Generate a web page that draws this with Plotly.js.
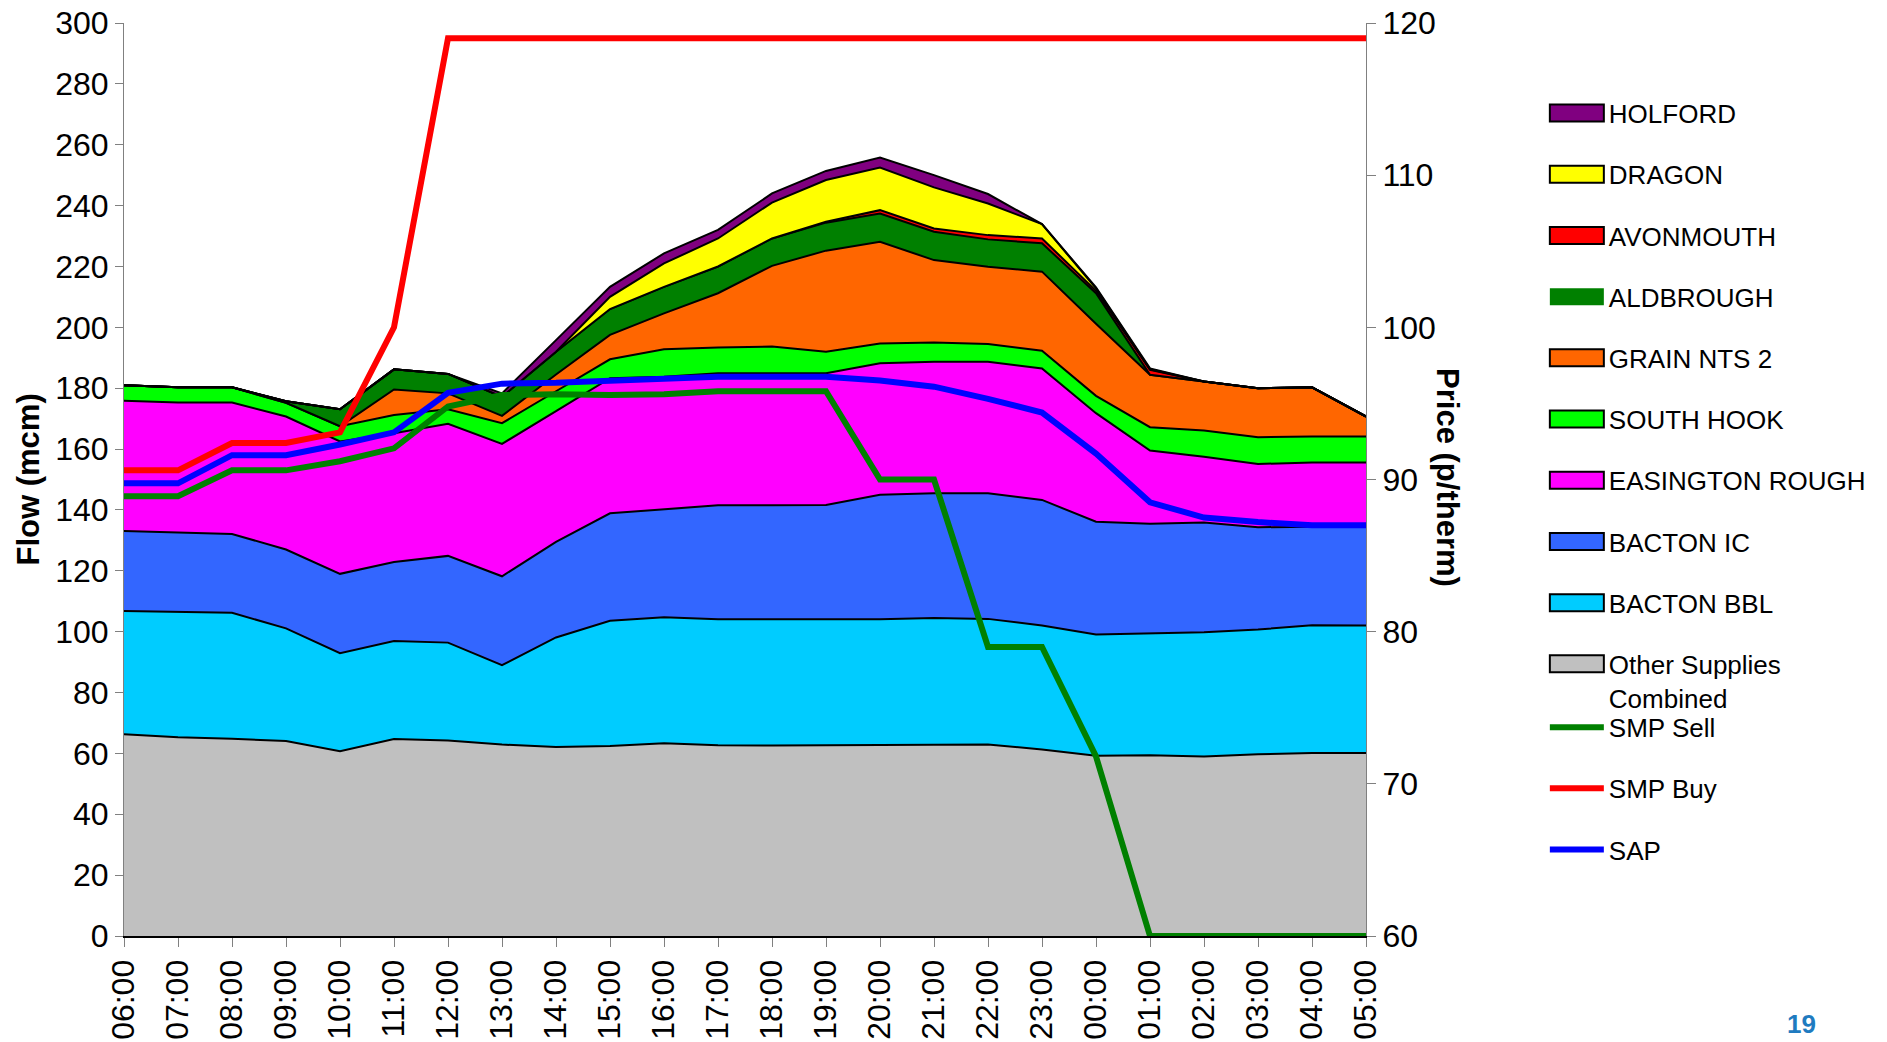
<!DOCTYPE html>
<html>
<head>
<meta charset="utf-8">
<script src="https://cdn.plot.ly/plotly-3.0.1.min.js"></script>
<style>
html,body{margin:0;padding:0;background:#fff;}
#chart{width:1887px;height:1042px;}
</style>
</head>
<body>
<div id="chart"></div>
<script>
const times = ['06:00','07:00','08:00','09:00','10:00','11:00','12:00','13:00','14:00','15:00','16:00','17:00',
               '18:00','19:00','20:00','21:00','22:00','23:00','00:00','01:00','02:00','03:00','04:00','05:00'];

// Flow components (mcm), stacked bottom -> top
const otherSupplies = [66.3,65.3,64.8,64.1,60.7,64.7,64.2,62.9,62.1,62.4,63.3,62.7,62.6,62.7,62.7,62.9,62.9,61.3,59.2,59.4,59.0,59.7,60.1,60.1];
const bactonBBL     = [40.5,41.3,41.4,37.0,32.2,32.2,32.2,26.1,36.0,41.2,41.4,41.4,41.4,41.4,41.4,41.6,41.3,40.7,39.9,40.1,40.8,41.0,42.0,41.9];
const bactonIC      = [26.3,26.0,25.9,25.9,26.1,26.0,28.5,29.2,31.4,35.3,35.4,37.4,37.5,37.5,40.9,41.0,41.3,41.3,37.0,36.0,36.1,33.6,32.4,32.5];
const easington     = [42.8,42.7,43.2,43.7,43.5,42.3,43.4,43.5,43.0,44.4,43.7,43.4,43.4,43.3,43.2,43.2,43.2,43.2,35.7,24.0,21.6,20.8,21.1,21.1];
const southHook     = [5.1,5.0,5.0,4.5,5.0,6.0,4.8,6.8,6.5,6.2,9.0,8.5,8.8,7.1,6.5,6.3,5.8,5.8,5.7,7.7,8.6,8.8,8.5,8.5];
const grainNTS2     = [0,0,0,0,0,8.4,5.2,2.4,5.5,8.0,11.8,17.8,26.5,33.2,33.4,27.1,25.4,26.0,23.7,17.2,16.1,16.1,16.2,6.6];
const aldbrough     = [0,0,0,0.5,5.6,6.6,6.4,6.3,7.5,8.5,8.7,8.8,9.0,9.2,9.3,9.3,9.0,9.3,10.0,0,0,0,0,0];
const avonmouth     = [0,0,0,0,0,0,0,0,0,0,0,0,0,0.3,1.1,1.1,1.4,1.6,0.8,1.6,0,0,0,0];
const dragon        = [0,0,0,0,0,0,0,0,0,4.0,7.7,9.2,11.8,13.7,14.0,13.5,10.4,4.7,0.8,0.2,0,0,0,0];
const holford       = [0,0,0,0,0,0,0,1.1,3.8,3.3,3.3,2.8,3.0,3.0,3.3,4.0,3.1,0,0.3,0.3,0,0,0,0];

// Prices (p/therm)
const smpSell = [88.9,88.9,90.6,90.6,91.2,92.05,94.8,95.55,95.6,95.55,95.6,95.8,95.8,95.8,90.0,90.0,79.0,79.0,71.8,60,60,60,60,60];
const smpBuy  = [90.6,90.6,92.4,92.4,93.1,100.0,119,119,119,119,119,119,119,119,119,119,119,119,119,119,119,119,119,119];
const sap     = [89.75,89.75,91.6,91.6,92.3,93.1,95.7,96.3,96.35,96.5,96.6,96.75,96.75,96.75,96.5,96.1,95.3,94.4,91.7,88.5,87.5,87.2,87.0,87.0];

const FONT = 'Liberation Sans, Arial, Helvetica, sans-serif';

// stacking order bottom -> top; legend rank top -> bottom
const areaSeries = [
  {name:'Other Supplies<br>Combined', y:otherSupplies, color:'#C0C0C0', rank:10},
  {name:'BACTON BBL', y:bactonBBL, color:'#00CCFF', rank:9},
  {name:'BACTON IC', y:bactonIC, color:'#3366FF', rank:8},
  {name:'EASINGTON ROUGH', y:easington, color:'#FF00FF', rank:7},
  {name:'SOUTH HOOK', y:southHook, color:'#00FF00', rank:6},
  {name:'GRAIN NTS 2', y:grainNTS2, color:'#FF6600', rank:5},
  {name:'ALDBROUGH', y:aldbrough, color:'#008000', rank:4},
  {name:'AVONMOUTH', y:avonmouth, color:'#FF0000', rank:3},
  {name:'DRAGON', y:dragon, color:'#FFFF00', rank:2},
  {name:'HOLFORD', y:holford, color:'#800080', rank:1}
];

const traces = areaSeries.map((s, i) => ({
  type:'scatter', mode:'lines', x:times, y:s.y, name:s.name,
  stackgroup:'flow', fillcolor:s.color,
  line:{color:'#000000', width:2, shape:'linear'},
  legend:'legend', legendgroup:'g'+i, legendrank:s.rank, hoverinfo:'skip'
}));

const lineSeries = [
  {name:'SMP Sell', y:smpSell, color:'#008000', rank:11},
  {name:'SMP Buy', y:smpBuy, color:'#FF0000', rank:12},
  {name:'SAP', y:sap, color:'#0000FF', rank:13}
];
lineSeries.forEach((s, i) => {
  traces.push({
    type:'scatter', mode:'lines', x:times, y:s.y, name:s.name, yaxis:'y2',
    line:{color:s.color, width:6}, legend:'legend2', legendgroup:'l'+i, legendrank:s.rank, hoverinfo:'skip'
  });
});

const legendCommon = {
  xanchor:'left', yanchor:'top', font:{family:FONT, size:26, color:'#000'},
  itemwidth:54, tracegroupgap:24.4, bgcolor:'rgba(0,0,0,0)', borderwidth:0,
  traceorder:'grouped', valign:'top'
};

const TICKFONT = {family:FONT, size:32, color:'#000'};

const layout = {
  width:1887, height:1042,
  margin:{l:124, r:521, t:23, b:106},
  paper_bgcolor:'#ffffff', plot_bgcolor:'#ffffff',
  font:{family:FONT, size:30, color:'#000'},
  showlegend:true,
  xaxis:{
    type:'category', range:[0, times.length-1], tickangle:-90,
    ticks:'outside', ticklen:9, tickcolor:'#808080', tickwidth:1,
    showline:true, linecolor:'#000', linewidth:2, showgrid:false, zeroline:false,
    tickfont:TICKFONT, automargin:false
  },
  yaxis:{
    range:[0,300], dtick:20, ticks:'outside', ticklen:8, tickcolor:'#808080', tickwidth:1,
    showline:true, linecolor:'#808080', linewidth:1, showgrid:false, zeroline:false,
    tickfont:TICKFONT, automargin:false
  },
  yaxis2:{
    overlaying:'y', side:'right', range:[60,120], dtick:10,
    ticks:'outside', ticklen:9, tickcolor:'#808080', tickwidth:1,
    showline:true, linecolor:'#808080', linewidth:1, showgrid:false, zeroline:false,
    tickfont:TICKFONT, automargin:false
  },
  legend:Object.assign({}, legendCommon, {x:1.144, y:0.927}),
  legend2:Object.assign({}, legendCommon, {x:1.144, y:0.2544}),
  annotations:[
    {text:'<b>Flow (mcm)</b>', xref:'paper', yref:'paper', x:-0.0765, y:0.5, textangle:-90,
     showarrow:false, xanchor:'center', yanchor:'middle', font:{family:FONT, size:31, color:'#000'}},
    {text:'<b>Price (p/therm)</b>', xref:'paper', yref:'paper', x:1.066, y:0.5016, textangle:90,
     showarrow:false, xanchor:'center', yanchor:'middle', font:{family:FONT, size:31, color:'#000'}},
    {text:'<b>19</b>', xref:'paper', yref:'paper', x:1.351, y:-0.1150, showarrow:false,
     xanchor:'center', yanchor:'bottom', font:{family:FONT, size:26, color:'#1F7BC0'}}
  ]
};

Plotly.newPlot('chart', traces, layout, {staticPlot:true, displayModeBar:false}).then(gd => {
  gd.querySelectorAll('.legend .traces').forEach(t => {
    const fill = t.querySelector('.legendfill path');
    const label = (t.querySelector('.legendtext') || {}).textContent || '';
    if (fill) {
      fill.setAttribute('d', 'M5,-8.5h54v17h-54z');
      if (label === 'ALDBROUGH') {
        fill.style.stroke = 'none';
      } else {
        fill.style.stroke = '#000';
        fill.style.strokeWidth = '2px';
      }
      t.querySelectorAll('.legendlines path').forEach(p => p.style.display = 'none');
    } else {
      t.querySelectorAll('.legendlines path').forEach(p => p.style.strokeLinecap = 'round');
    }
  });
});
</script>
</body>
</html>
